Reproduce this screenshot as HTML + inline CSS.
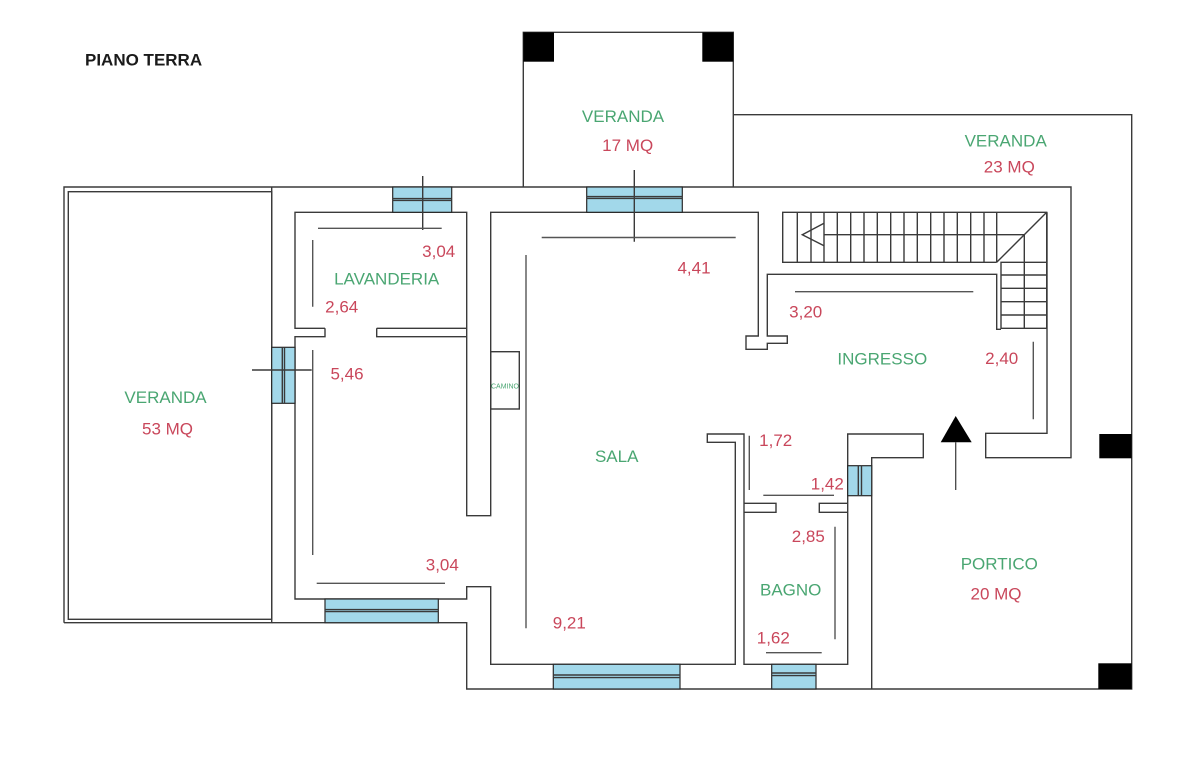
<!DOCTYPE html>
<html>
<head>
<meta charset="utf-8">
<style>
  html,body{margin:0;padding:0;background:#fff;}
  svg{display:block;}
  .w{fill:none;stroke:#3a3a3a;stroke-width:1.4;}
  .d{fill:none;stroke:#555;stroke-width:1.4;}
  .win{fill:#a2d8ea;stroke:#2a2a2a;stroke-width:1.2;}
  .g{fill:#4aa672;font-family:"Liberation Sans",sans-serif;font-size:17px;text-anchor:middle;}
  .r{fill:#c9475b;font-family:"Liberation Sans",sans-serif;font-size:17px;text-anchor:middle;}
</style>
</head>
<body>
<svg width="1200" height="764" viewBox="0 0 1200 764" xmlns="http://www.w3.org/2000/svg">
  <rect width="1200" height="764" fill="#fff"/>

  <!-- Title -->
  <text x="85" y="65.5" font-family="Liberation Sans, sans-serif" font-size="17" font-weight="bold" fill="#1a1a1a">PIANO TERRA</text>

  <!-- Left veranda -->
  <path class="w" d="M64,622.7 V187 H1071 V457.7 H985.7 V433.3 H1047 V212.3"/>
  <rect class="w" x="68.3" y="191.7" width="203.4" height="427.6"/>
  <path class="w" d="M271.7,187 V622.7 H64"/>
  <path class="w" d="M271.7,622.7 H466.7 V689 H1131.7 V114.7 H733.3"/>

  <!-- Top veranda -->
  <path class="w" d="M523.3,187 V32.3 H733.3 V187"/>
  <rect x="523.3" y="32.3" width="30.7" height="29.4" fill="#000"/>
  <rect x="702.3" y="32.3" width="31" height="29.4" fill="#000"/>

  <!-- Right black squares -->
  <rect x="1099.3" y="434" width="32.4" height="24.3" fill="#000"/>
  <rect x="1098.3" y="663.3" width="33.4" height="25.7" fill="#000"/>

  <!-- Lavanderia + sala top + ingresso wall -->
  <path class="w" d="M325,328.3 H295 V212.3 H466.7 V515.7 H490.7 V212.3 H758.3 V336 H746 V349.3 H767.3 V343.3 H787.3 V336 H767.3 V274.3 H996.7 V329.3 H1001"/>
  <path class="w" d="M325,328.3 V336.7 H295 V599 H466.7 V586.7 H490.7 V664.3 H735.3 V442.3 H707.3 V434 H744 V664.3 H847.7 V434 H923.3 V457.7 H871.7 V689"/>
  <path class="w" d="M376.7,328.3 H466.7 M376.7,328.3 V336.7 H466.7"/>

  <!-- Bagno stubs -->
  <path class="w" d="M744,503.3 H776 V512.3 H744 M847.7,503.3 H819.3 V512.3 H847.7"/>

  <!-- Camino -->
  <rect class="w" x="490.7" y="351.7" width="28.6" height="57.3"/>
  <text x="505" y="388.5" font-family="Liberation Sans, sans-serif" font-size="7" fill="#4aa672" text-anchor="middle">CAMINO</text>

  <!-- Stairs -->
  <path class="w" d="M996.7,262.3 H782.7 V212.3 H1046.7 V328.3 H1001 V262.3 H1046.7"/>
  <path class="w" d="M996.7,262.3 L1046.7,212.3"/>
  <path class="w" stroke-width="1.1" d="M797.3,212.3V262.3 M811,212.3V262.3 M824,212.3V262.3 M837.3,212.3V262.3 M850.7,212.3V262.3 M864,212.3V262.3 M877.3,212.3V262.3 M890.7,212.3V262.3 M904,212.3V262.3 M917.3,212.3V262.3 M930.7,212.3V262.3 M944,212.3V262.3 M957.3,212.3V262.3 M970.7,212.3V262.3 M984,212.3V262.3 M996.7,212.3V262.3"/>
  <path class="w" stroke-width="1.1" d="M824,234.7 H1024.3 V328.3 M1001,275 H1046.7 M1001,288.3 H1046.7 M1001,301.7 H1046.7 M1001,315 H1046.7"/>
  <path class="w" stroke-width="1.1" d="M824,223.3 L802.3,234.7 L824,245.7"/>

  <!-- Windows -->
  <rect class="win" x="392.7" y="187" width="59" height="25.3"/>
  <path class="w" d="M392.7,198.6 H451.7 M392.7,200.4 H451.7"/>
  <rect class="win" x="586.7" y="187" width="95.6" height="25.3"/>
  <path class="w" d="M586.7,196.6 H682.3 M586.7,198.4 H682.3"/>
  <rect class="win" x="271.7" y="347.3" width="23.3" height="56"/>
  <path class="w" d="M282.3,347.3 V403.3 M284.5,347.3 V403.3"/>
  <rect class="win" x="325" y="599" width="113.3" height="23.7"/>
  <path class="w" d="M325,609.6 H438.3 M325,611.6 H438.3"/>
  <rect class="win" x="553.3" y="664.3" width="126.7" height="24.7"/>
  <path class="w" d="M553.3,675 H680 M553.3,677.6 H680"/>
  <rect class="win" x="771.7" y="664.3" width="44.3" height="24.7"/>
  <path class="w" d="M771.7,673 H816 M771.7,675.6 H816"/>
  <rect class="win" x="847.7" y="465.7" width="24" height="30"/>
  <path class="w" d="M858.3,465.7 V495.7 M861.5,465.7 V495.7"/>

  <!-- Window crossing lines -->
  <path class="w" d="M422.7,176 V230 M634.3,170 V241.7 M252,370 H311.7"/>

  <!-- Dimension lines -->
  <path class="d" d="M312.7,240 V306.7 M312.7,350 V555 M318,228.3 H441.7 M316.7,583.3 H445 M541.7,237.5 H735.7 M526,255 V628.3 M795,291.7 H973.3 M1033.3,341.7 V419.3 M749.3,435.7 V490 M763.3,495.3 H834 M835,526.7 V639.3 M766,652.7 H821.7"/>

  <!-- Entrance arrow -->
  <path d="M955.7,442.3 V490" stroke="#444" stroke-width="1.3"/>
  <polygon points="955.7,416 940.7,442.3 971.7,442.3" fill="#000"/>

  <!-- Labels -->
  <text class="g" x="165.5" y="403">VERANDA</text>
  <text class="r" x="167.5" y="434.3">53 MQ</text>
  <text class="g" x="623" y="122">VERANDA</text>
  <text class="r" x="627.7" y="151">17 MQ</text>
  <text class="g" x="1005.7" y="146.7">VERANDA</text>
  <text class="r" x="1009.3" y="172.7">23 MQ</text>
  <text class="g" x="386.7" y="284.3">LAVANDERIA</text>
  <text class="r" x="438.7" y="257">3,04</text>
  <text class="r" x="341.7" y="312.7">2,64</text>
  <text class="r" x="347" y="379.3">5,46</text>
  <text class="r" x="442.3" y="570.3">3,04</text>
  <text class="r" x="694" y="273.3">4,41</text>
  <text class="g" x="616.7" y="462">SALA</text>
  <text class="r" x="569.3" y="628.7">9,21</text>
  <text class="r" x="805.7" y="317.7">3,20</text>
  <text class="g" x="882.3" y="364.3">INGRESSO</text>
  <text class="r" x="1001.7" y="364">2,40</text>
  <text class="r" x="775.7" y="446">1,72</text>
  <text class="r" x="827.3" y="489.3">1,42</text>
  <text class="r" x="808.3" y="542">2,85</text>
  <text class="g" x="790.7" y="595.3">BAGNO</text>
  <text class="r" x="773.3" y="643.7">1,62</text>
  <text class="g" x="999.3" y="569.3">PORTICO</text>
  <text class="r" x="996" y="599.3">20 MQ</text>
</svg>
</body>
</html>
